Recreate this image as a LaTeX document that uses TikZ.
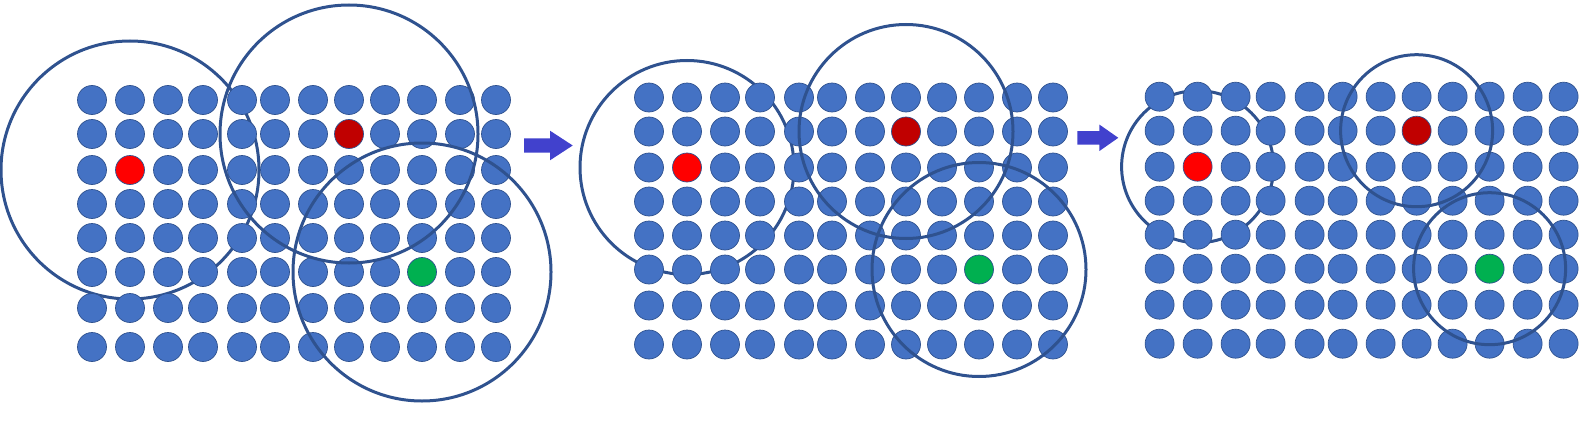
\documentclass[tikz,border=0pt]{standalone}
\usetikzlibrary{positioning}
\definecolor{dotblue}{RGB}{68,114,196}
\definecolor{dotedge}{RGB}{47,82,143}
\definecolor{ringblue}{RGB}{47,82,143}
\definecolor{seedred}{RGB}{255,0,0}
\definecolor{seeddark}{RGB}{192,0,0}
\definecolor{seedgreen}{RGB}{0,176,80}
\definecolor{arrowblue}{RGB}{65,65,205}

\begin{document}
\begin{tikzpicture}[
    x=1pt, y=-1pt,
    dot/.style={circle, draw=dotedge, line width=0.7pt, fill=dotblue, minimum size=29pt, inner sep=0pt},
    ring/.style={circle, draw=ringblue, line width=3pt, inner sep=0pt, fill=none},
    blockarrow/.style={fill=arrowblue}
]
\useasboundingbox (0,0) rectangle (1594,420);

% three panels: origin x, origin y, ring diameter
\foreach \p/\ox/\oy/\rad in {1/92/100/258, 2/649/97.5/214, 3/1159.6/96.7/152}{
    % left ring sits behind the dots
    \node[ring, minimum size=\rad pt] (ringA\p) at (\ox+38,\oy+70) {};
    % grid of points
    \foreach \r/\dy in {0/0, 1/34, 2/70, 3/104, 4/138, 5/172, 6/208, 7/247}{
        \foreach \c/\dx in {0/0, 1/38, 2/76, 3/111, 4/150, 5/183, 6/221, 7/257, 8/293, 9/330, 10/368, 11/404}{
            \def\dotcol{dotblue}
            \ifnum\r\c=21 \def\dotcol{seedred}\fi
            \ifnum\r\c=17 \def\dotcol{seeddark}\fi
            \ifnum\r\c=59 \def\dotcol{seedgreen}\fi
            \node[dot, fill=\dotcol] (p\p-\r-\c) at (\ox+\dx,\oy+\dy) {};
        }
    }
    % rings round the other two seeds
    \node[ring, minimum size=\rad pt] (ringB\p) at (p\p-1-7) {};
    \node[ring, minimum size=\rad pt] (ringC\p) at (p\p-5-9) {};
}

% arrows between panels
\coordinate (arr1) at (524,145.5);
\coordinate (arr2) at (1077.3,137.8);
\fill[blockarrow] (arr1) -- ++(0,-7.2) -- ++(26,0) -- ++(0,-7.6) -- ++(22.7,14.8)
    -- ++(-22.7,14.8) -- ++(0,-7.6) -- ++(-26,0) -- cycle;
\fill[blockarrow] (arr2) -- ++(0,-6.8) -- ++(22,0) -- ++(0,-6.5) -- ++(19,13.3)
    -- ++(-19,13.3) -- ++(0,-6.5) -- ++(-22,0) -- cycle;

\end{tikzpicture}
\end{document}
